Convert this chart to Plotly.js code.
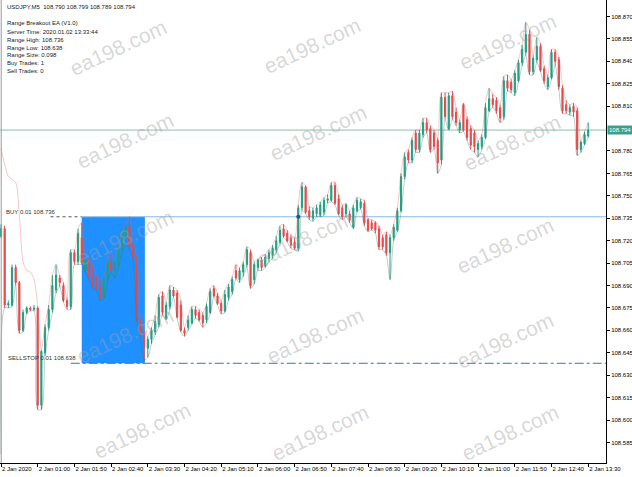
<!DOCTYPE html>
<html><head><meta charset="utf-8">
<script src="https://cdn.plot.ly/plotly-3.0.1.min.js"></script>
<style>html,body{margin:0;padding:0;background:#fff;}#chart{width:632px;height:477px;}</style>
</head><body><div id="chart"></div>
<script>
// ---- data ----
const timeLabels = ["2 Jan 2020","2 Jan 01:00","2 Jan 01:50","2 Jan 02:40","2 Jan 03:30","2 Jan 04:20","2 Jan 05:10","2 Jan 06:00","2 Jan 06:50","2 Jan 07:40","2 Jan 08:30","2 Jan 09:20","2 Jan 10:10","2 Jan 11:00","2 Jan 11:50","2 Jan 12:40","2 Jan 13:30"];
const labelBars = [0,10,20,30,40,50,60,70,80,90,100,110,120,130,140,150,160];
const priceTicks = [108.585,108.600,108.615,108.630,108.645,108.660,108.675,108.690,108.705,108.720,108.735,108.750,108.765,108.780,108.810,108.825,108.840,108.855,108.870];

const openP = [108.723,108.728,108.677,108.677,108.702,108.692,108.660,108.672,108.675,108.674,
108.675,108.610,108.645,108.662,108.674,108.687,108.695,108.690,108.680,108.676,
108.712,108.706,108.722,108.700,108.707,108.696,108.690,108.689,108.682,108.694,
108.706,108.700,108.704,108.714,108.722,108.730,108.717,108.709,108.667,108.658,
108.648,108.654,108.659,108.664,108.683,108.668,108.676,108.687,108.685,108.677,
108.660,108.662,108.665,108.674,108.672,108.670,108.667,108.672,108.688,108.683,
108.678,108.673,108.682,108.686,108.700,108.694,108.699,108.704,108.712,108.694,
108.702,108.707,108.703,108.708,108.710,108.714,108.719,108.728,108.725,108.722,
108.719,108.715,108.742,108.756,108.740,108.735,108.738,108.737,108.739,108.747,
108.747,108.757,108.748,108.742,108.738,108.738,108.729,108.740,108.742,108.745,
108.734,108.732,108.732,108.728,108.722,108.724,108.712,108.722,108.727,108.740,
108.763,108.779,108.774,108.792,108.781,108.791,108.799,108.795,108.792,108.787,
108.774,108.816,108.795,108.817,108.806,108.794,108.811,108.801,108.795,108.792,
108.781,108.783,108.789,108.807,108.815,108.814,108.809,108.803,108.827,108.826,
108.819,108.827,108.839,108.846,108.858,108.833,108.841,108.850,108.835,108.823,
108.829,108.846,108.841,108.822,108.811,108.806,108.810,108.807,108.781,108.785,
108.790];
const highP = [108.731,108.730,108.680,108.704,108.704,108.693,108.674,108.676,108.676,108.677,
108.676,108.647,108.664,108.677,108.697,108.704,108.697,108.692,108.682,108.714,
108.714,108.728,108.732,108.710,108.708,108.704,108.697,108.694,108.696,108.708,
108.712,108.707,108.717,108.726,108.731,108.736,108.719,108.710,108.668,108.660,
108.656,108.662,108.670,108.684,108.686,108.679,108.690,108.689,108.687,108.680,
108.662,108.670,108.676,108.676,108.674,108.672,108.678,108.688,108.690,108.685,
108.680,108.687,108.691,108.696,108.704,108.702,108.706,108.716,108.714,108.706,
108.708,108.709,108.711,108.714,108.717,108.723,108.730,108.731,108.727,108.724,
108.722,108.744,108.759,108.757,108.743,108.742,108.744,108.746,108.749,108.751,
108.759,108.759,108.751,108.744,108.745,108.740,108.744,108.749,108.748,108.747,
108.735,108.734,108.733,108.730,108.724,108.726,108.724,108.731,108.742,108.765,
108.779,108.781,108.789,108.794,108.794,108.802,108.802,108.797,108.794,108.789,
108.819,108.819,108.819,108.820,108.809,108.801,108.812,108.803,108.797,108.794,
108.787,108.791,108.812,108.822,108.818,108.816,108.811,108.830,108.831,108.828,
108.834,108.841,108.851,108.866,108.861,108.844,108.856,108.852,108.837,108.831,
108.848,108.848,108.843,108.824,108.814,108.811,108.812,108.809,108.787,108.793,
108.799];
const lowP = [108.722,108.675,108.675,108.676,108.690,108.658,108.659,108.671,108.673,108.673,
108.607,108.607,108.643,108.660,108.672,108.685,108.689,108.679,108.674,108.674,
108.704,108.704,108.704,108.699,108.694,108.688,108.687,108.680,108.681,108.692,
108.699,108.695,108.702,108.712,108.718,108.714,108.707,108.666,108.656,108.640,
108.642,108.651,108.657,108.662,108.670,108.667,108.674,108.682,108.668,108.659,
108.656,108.660,108.664,108.668,108.666,108.662,108.665,108.671,108.682,108.677,
108.671,108.672,108.680,108.684,108.694,108.692,108.696,108.702,108.688,108.691,
108.700,108.700,108.702,108.706,108.708,108.712,108.718,108.722,108.719,108.715,
108.714,108.713,108.740,108.738,108.734,108.733,108.736,108.736,108.737,108.745,
108.746,108.744,108.737,108.734,108.736,108.732,108.728,108.739,108.741,108.730,
108.726,108.727,108.725,108.714,108.714,108.710,108.694,108.720,108.726,108.739,
108.761,108.772,108.772,108.779,108.779,108.789,108.792,108.779,108.781,108.765,
108.771,108.801,108.794,108.801,108.797,108.792,108.793,108.787,108.781,108.779,
108.776,108.781,108.788,108.806,108.809,108.805,108.799,108.801,108.820,108.819,
108.817,108.826,108.837,108.844,108.831,108.831,108.839,108.833,108.825,108.821,
108.828,108.837,108.821,108.805,108.805,108.804,108.803,108.777,108.779,108.784,
108.789];
const closeP = [108.728,108.677,108.678,108.702,108.692,108.660,108.672,108.675,108.674,108.675,
108.610,108.646,108.662,108.674,108.690,108.697,108.692,108.680,108.676,108.712,
108.706,108.725,108.705,108.707,108.696,108.690,108.689,108.682,108.694,108.706,
108.700,108.705,108.715,108.724,108.729,108.716,108.709,108.667,108.658,108.649,
108.654,108.660,108.666,108.682,108.672,108.677,108.687,108.683,108.669,108.660,
108.658,108.667,108.674,108.670,108.667,108.665,108.676,108.686,108.683,108.678,
108.673,108.684,108.689,108.694,108.695,108.700,108.704,108.714,108.690,108.704,
108.707,108.702,108.709,108.712,108.715,108.720,108.727,108.723,108.720,108.717,
108.715,108.742,108.756,108.739,108.736,108.740,108.742,108.744,108.747,108.748,
108.757,108.745,108.738,108.736,108.744,108.734,108.742,108.747,108.746,108.732,
108.727,108.728,108.727,108.716,108.716,108.712,108.722,108.729,108.740,108.763,
108.776,108.774,108.787,108.781,108.792,108.799,108.794,108.781,108.783,108.772,
108.816,108.803,108.817,108.803,108.799,108.799,108.794,108.789,108.784,108.783,
108.785,108.789,108.809,108.815,108.811,108.807,108.802,108.827,108.822,108.821,
108.832,108.839,108.848,108.858,108.833,108.842,108.850,108.834,108.827,108.829,
108.846,108.840,108.823,108.807,108.807,108.809,108.806,108.781,108.786,108.791,
108.794];

// indicator line start values (warm-up part)
const upperLead = [108.782,108.771,108.763,108.761,108.759,108.737,108.706,108.700,108.699,108.694];
const lowerLead = [108.577];

const rangeBars = [22, 39];
const rangeHigh = 108.736;
const rangeLow = 108.638;
const bidPrice = 108.794;
const entryBar = [81];
const entryPrice = [108.736];

const infoLines = ["USDJPY,M5\u00a0\u00a0108.790 108.799 108.789 108.794","Range Breakout EA (V1.0)","Server Time: 2020.01.02 13:33:44","Range High: 108.736","Range Low: 108.638","Range Size: 0.098","Buy Trades: 1","Sell Trades: 0"];
const orderLabels = ["BUY 0.01 108.736", "SELLSTOP 0.01 108.638"];
const watermark = "ea198.com";

// ---- chart ----
const xs = openP.map((_, i) => i);
const upperLine = upperLead.concat(highP.slice(upperLead.length));
const lowerLine = lowerLead.concat(lowP.slice(lowerLead.length));

const GREEN = '#1fa083', RED = '#e84848';
const FONT = 'Liberation Sans, Arial, sans-serif';

const traces = [
  {type:'candlestick', x:xs, open:openP, high:highP, low:lowP, close:closeP,
   increasing:{line:{color:GREEN,width:1}, fillcolor:GREEN},
   decreasing:{line:{color:RED,width:1}, fillcolor:RED},
   whiskerwidth:0, hoverinfo:'skip'},
  {type:'scatter', mode:'lines', x:xs, y:upperLine, line:{color:'rgba(230,100,100,0.6)', width:0.6, shape:'spline', smoothing:0.8}, hoverinfo:'skip'},
  {type:'scatter', mode:'lines', x:xs, y:lowerLine, line:{color:'rgba(80,110,110,0.6)', width:0.6, shape:'spline', smoothing:0.8}, hoverinfo:'skip'},
  {type:'scatter', mode:'markers', x:entryBar, y:entryPrice, marker:{color:'#1d4fa8', size:4}, hoverinfo:'skip'}
];

const PW = 606, PH = 463;
const annotations = [];
const infoY = [7, 23, 31.5, 40, 48, 55.5, 63.5, 71];
infoLines.forEach((t, i) => annotations.push({xref:'paper', yref:'paper', x:5/PW, y:1-infoY[i]/PH, xanchor:'left', yanchor:'middle', text:t, showarrow:false, font:{family:FONT, size:6, color:'#222'}}));
annotations.push({xref:'paper', yref:'y', x:4/PW, y:rangeHigh, xanchor:'left', yanchor:'bottom', text:orderLabels[0], showarrow:false, font:{family:FONT, size:6, color:'#333'}});
annotations.push({xref:'paper', yref:'y', x:6/PW, y:rangeLow, xanchor:'left', yanchor:'bottom', text:orderLabels[1], showarrow:false, font:{family:FONT, size:6, color:'#333'}});
annotations.push({xref:'paper', yref:'y', x:1, y:bidPrice, xanchor:'left', yanchor:'middle', xshift:1, text:bidPrice.toFixed(3), showarrow:false, bgcolor:'#3a9f8c', borderpad:1, font:{family:FONT, size:6, color:'#fff'}});
const wmPos = [[118,47],[312,45],[508,42],[125,140],[318,132],[512,142],[125,237],[305,238],[505,245],[125,335],[315,335],[505,340],[142,430],[320,432],[510,432]];
wmPos.forEach(p => annotations.push({xref:'paper', yref:'paper', x:p[0]/PW, y:1-p[1]/PH, xanchor:'center', yanchor:'middle', text:watermark, textangle:-25, showarrow:false, font:{family:FONT, size:21, color:'rgba(160,160,160,0.42)'}}));

const shapes = [
  {type:'rect', layer:'below', xref:'x', yref:'y', x0:rangeBars[0], x1:rangeBars[1]+0.2, y0:rangeLow, y1:rangeHigh, fillcolor:'#1e90ff', line:{width:0}},
  {type:'line', layer:'below', xref:'x', yref:'y', x0:rangeBars[0], x1:165, y0:rangeHigh, y1:rangeHigh, line:{color:'#8cb9dc', width:1}},
  {type:'line', layer:'below', xref:'x', yref:'y', x0:13.5, x1:rangeBars[0], y0:rangeHigh, y1:rangeHigh, line:{color:'#555', width:1, dash:'dot'}},
  {type:'line', layer:'below', xref:'x', yref:'y', x0:19, x1:165, y0:rangeLow, y1:rangeLow, line:{color:'#3d6fc8', width:1, dash:'dashdot'}},
  {type:'line', layer:'below', xref:'paper', yref:'y', x0:0, x1:1, y0:bidPrice, y1:bidPrice, line:{color:'#8dbfad', width:1}},
  {type:'line', xref:'paper', yref:'paper', x0:0.002, x1:0.002, y0:0, y1:1, line:{color:'#9a9a9a', width:1}}
];

const layout = {
  width:632, height:477,
  margin:{l:0, r:26, t:0, b:14, pad:0},
  paper_bgcolor:'#fff', plot_bgcolor:'#fff',
  showlegend:false, boxgap:0.55,
  xaxis:{range:[-0.272, 164.85], tickvals:labelBars, ticktext:timeLabels, tickangle:0, ticks:'outside', ticklen:3, tickcolor:'#000',
         ticklabelposition:'outside right', showgrid:false, zeroline:false, showline:true, linecolor:'#000', linewidth:1,
         tickfont:{family:FONT, size:6, color:'#000'}, rangeslider:{visible:false}, fixedrange:true, automargin:false},
  yaxis:{side:'right', range:[108.5713, 108.881], tickvals:priceTicks, ticktext:priceTicks.map(v => v.toFixed(3)), ticks:'outside', ticklen:3, tickcolor:'#000',
         showgrid:false, zeroline:false, showline:true, linecolor:'#000', linewidth:1,
         tickfont:{family:FONT, size:6, color:'#000'}, fixedrange:true, automargin:false},
  shapes:shapes, annotations:annotations
};

Plotly.newPlot('chart', traces, layout, {staticPlot:true, displayModeBar:false});
</script></body></html>
